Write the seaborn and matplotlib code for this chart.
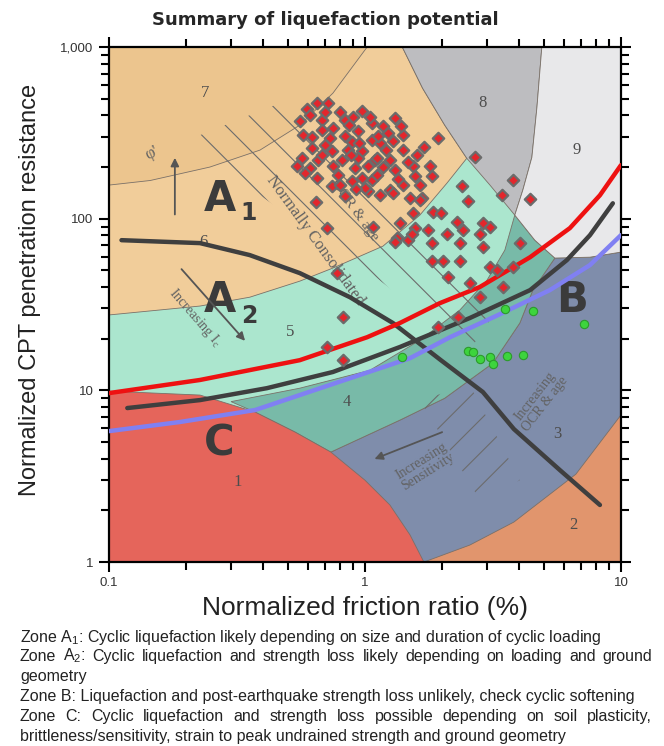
import matplotlib
matplotlib.use("Agg")
import matplotlib.pyplot as plt
import seaborn as sns
from matplotlib.ticker import NullFormatter, LogLocator

sns.set_style("white")
plt.rcParams["font.family"] = ["Liberation Sans", "DejaVu Sans"]
plt.rcParams["hatch.linewidth"] = 0.8

# ---- data (normalized friction ratio %, normalized CPT resistance) ----
red_pts = [
    (0.593, 435), (0.649, 471), (0.717, 471), (0.557, 370), (0.973, 423), (0.835, 375),
    (1.065, 360), (0.679, 375), (0.573, 307), (0.679, 328), (0.750, 337), (0.939, 324),
    (0.621, 258), (0.730, 295), (0.835, 303), (1.065, 287), (0.743, 248), (0.859, 251),
    (0.973, 248), (0.567, 225), (0.655, 219), (0.813, 219), (0.939, 225), (1.094, 219),
    (0.542, 202), (0.610, 197), (0.750, 202), (0.914, 197), (1.028, 202), (0.649, 172),
    (0.785, 180), (0.973, 172), (0.743, 155), (0.890, 166), (1.065, 168), (0.835, 135),
    (1.028, 145), (0.643, 125), (1.176, 346), (1.31, 385), (1.407, 307), (1.93, 295),
    (1.145, 276), (1.286, 283), (1.114, 225), (1.252, 219), (1.407, 251), (1.597, 235),
    (1.31, 192), (1.54, 202), (1.79, 202), (1.114, 180), (1.568, 177), (1.83, 177),
    (1.407, 157), (1.64, 157), (1.252, 147), (1.145, 137), (1.50, 132), (1.67, 132),
    (2.69, 229), (2.39, 155), (2.52, 127), (3.78, 168), (3.43, 137), (4.42, 130),
    (1.85, 109), (1.98, 108), (2.89, 94), (3.08, 89), (2.29, 96), (2.41, 86),
    (1.83, 72), (2.09, 82), (2.35, 72), (2.81, 82), (2.89, 68), (1.76, 86),
    (1.37, 94), (1.47, 75), (1.33, 77), (1.57, 88), (1.83, 57), (2.02, 57),
    (2.35, 57), (2.11, 46), (2.57, 42), (3.08, 52), (3.28, 50), (4.03, 72),
    (2.81, 35), (2.31, 26.7), (3.46, 40), (0.711, 88), (1.075, 89), (0.778, 48),
    (0.82, 26.7), (0.711, 17.9), (0.82, 15.0), (1.31, 73), (1.54, 108), (1.286, 141),
    (1.64, 128), (1.93, 23.3), (3.78, 52), (1.527, 82), (0.80, 417), (0.89, 279),
    (0.698, 268), (1.23, 315), (1.21, 251), (1.0, 151), (0.80, 157), (0.87, 351),
    (0.70, 418), (0.62, 299), (0.897, 391), (1.124, 303), (0.95, 276), (0.679, 235),
    (0.88, 235), (1.18, 200), (0.583, 184), (0.92, 150), (1.35, 170), (1.48, 215),
    (1.70, 260), (1.38, 345), (0.61, 400), (1.05, 390),
]
green_pts = [
    (3.52, 29.7), (4.53, 29.0), (7.17, 24.3), (1.40, 15.6), (2.52, 16.9), (2.64, 16.7),
    (2.81, 15.2), (3.08, 15.6), (3.16, 14.2), (3.59, 15.8), (4.14, 16.1),
]

# boundary curves
red_curve = [(0.1, 9.64), (0.227, 11.5), (0.557, 15.0), (1.02, 20.4), (1.371, 24.7), (1.96, 32.2),
             (2.81, 40.0), (4.42, 59.7), (6.32, 88.2), (8.28, 137), (10, 205)]
a_curve = [(0.112, 75.0), (0.227, 72.1), (0.355, 61.4), (0.557, 48.2), (0.874, 34.9), (1.286, 24.7),
           (1.98, 15.0), (2.89, 9.78), (3.82, 5.95), (5.78, 3.43), (8.28, 2.15)]
grey_curve = [(0.118, 7.89), (0.227, 8.78), (0.414, 10.3), (0.75, 12.8), (1.371, 17.9), (2.57, 26.4),
              (4.42, 38.4), (6.15, 57.4), (7.57, 80.2), (9.30, 123)]
blue_curve = [(0.1, 5.79), (0.189, 6.54), (0.372, 7.68), (0.806, 11.3), (1.50, 15.4), (2.15, 20.4),
              (3.37, 27.8), (5.28, 38.4), (7.57, 53.7), (10, 80.2)]

# soil behaviour type zones
zone1 = [(0.1, 1), (0.1, 9.9), (0.227, 9.39), (0.372, 7.48), (0.533, 5.72), (0.736, 4.37),
         (1.0, 3.0), (1.252, 2.15), (1.50, 1.44), (1.70, 1.0)]
zone2 = [(1.70, 1), (2.57, 1.256), (3.82, 1.71), (6.67, 3.25), (10, 7.18), (10, 1)]
zone3 = [(0.736, 4.37), (1.37, 6.71), (2.05, 9.0), (3.16, 14.4), (4.03, 24.7), (4.53, 38.4),
         (5.52, 59), (7.57, 59.7), (10, 63.9), (10, 1), (0.736, 1)]
zone4 = [(0.3, 8.6), (0.557, 10.3), (1.046, 13.1), (1.64, 19.6), (2.35, 29.4), (3.0, 43.9),
         (3.52, 65.6), (3.85, 105), (4.61, 75), (5.52, 59), (4.53, 38.4), (4.03, 24.7),
         (3.16, 14.4), (2.05, 9.0), (1.37, 6.71), (0.736, 4.37), (0.533, 5.72), (0.372, 7.48)]
zone5 = [(0.1, 1), (10, 1), (10, 1000), (0.1, 1000)]
zone6 = [(0.1, 27.5), (0.227, 31.0), (0.355, 34.9), (0.557, 43.3), (0.75, 51.6), (1.176, 69.2),
         (1.64, 105), (2.09, 161), (2.50, 225), (2.05, 351), (1.68, 576), (1.40, 1000), (0.1, 1000)]
zone7 = [(0.1, 157), (0.145, 167), (0.248, 200), (0.389, 251), (0.557, 351), (0.75, 539),
         (1.02, 1000), (0.1, 1000)]
zone8 = [(1.40, 1000), (1.68, 576), (2.05, 351), (2.50, 225), (3.08, 157), (3.85, 105),
         (4.14, 147), (4.49, 228), (4.70, 447), (4.91, 1000)]
zone9 = [(4.91, 1000), (4.70, 447), (4.49, 228), (4.14, 147), (3.85, 105), (4.61, 75),
         (5.52, 59), (7.57, 59.7), (10, 63.9), (10, 1000)]
nc_band = [(0.227, 307), (0.445, 459), (1.371, 105), (3.37, 31.4), (2.57, 17.2), (0.956, 53.7), (0.389, 137)]
oc_band = [(1.64, 8.78), (2.57, 10.7), (4.03, 3.0), (2.81, 2.30)]

zone_numbers = ["1", "2", "3", "4", "5", "6", "7", "8", "9"]
zone_number_pos = [(0.319, 2.92), (6.55, 1.64), (5.62, 5.57), (0.851, 8.55), (0.509, 21.9),
                   (0.233, 73.1), (0.237, 539), (2.89, 471), (6.73, 251)]

x_ticks = [0.1, 1, 10]
x_tick_labels = ["0.1", "1", "10"]
y_ticks = [1, 10, 100, 1000]
y_tick_labels = ["1", "10", "100", "1,000"]

notes = [
    r"Zone A$_\mathregular{1}$: Cyclic liquefaction likely depending on size and duration of cyclic loading",
    r"Zone A$_\mathregular{2}$: Cyclic liquefaction and strength loss likely depending on loading and ground",
    "geometry",
    "Zone B: Liquefaction and post-earthquake strength loss unlikely, check cyclic softening",
    "Zone C: Cyclic liquefaction and strength loss possible depending on soil plasticity,",
    "brittleness/sensitivity, strain to peak undrained strength and ground geometry",
]
notes_justified = [False, True, False, False, True, False]

# ---- figure ----
fig = plt.figure(figsize=(6.64, 7.46), dpi=100)
ax = fig.add_axes([0.164, 0.2466, 0.7711, 0.6903])
ax.set_xscale("log")
ax.set_yscale("log")

edge = "#7a7068"
def zone(pts, color, z=1):
    xs, ys = zip(*pts)
    ax.fill(xs, ys, facecolor=color, edgecolor=edge, lw=0.6, zorder=z)

zone(zone5, "#ABE6CE", 0.5)
zone(zone3, "#7F8DAB")
zone(zone4, "#78BAA8")
zone(zone6, "#F1CD9A")
zone(zone7, "#ECC58E")
zone(zone8, "#BDBDC0")
zone(zone9, "#E8E8EA")
zone(zone1, "#E5655B")
zone(zone2, "#E1956D")

for band, h in [(nc_band, "\\"), (oc_band, "/")]:
    xs, ys = zip(*band)
    ax.fill(xs, ys, facecolor="none", edgecolor="#6c6c6c", hatch=h, lw=0, zorder=2)

serif = ["Liberation Serif", "DejaVu Serif"]
for lab, (x, y) in zip(zone_numbers, zone_number_pos):
    ax.text(x, y, lab, fontsize=12, family=serif, color="#4d4d4d", ha="center", va="center", zorder=3)

big = dict(fontsize=30, fontweight="bold", color="#3b3b3b", family="DejaVu Sans", ha="center", va="center", zorder=3)
sub = dict(fontsize=17, fontweight="bold", color="#3b3b3b", family="DejaVu Sans", ha="center", va="center", zorder=3)
ax.text(0.271, 130, "A", **big)
ax.text(0.350, 108, "1", **sub)
ax.text(0.271, 33.6, "A", **big)
ax.text(0.352, 27.0, "2", **sub)
ax.text(6.44, 33.6, "B", **big)
ax.text(0.269, 4.93, "C", **big)

note = dict(family=serif, color="#626262", ha="center", va="center", zorder=3, rotation_mode="anchor")
ax.text(0.147, 241, "φ'", fontsize=12, rotation=25, **note)
ax.text(0.638, 75, "Normally Consolidated", fontsize=12, rotation=-54, **note)
ax.text(0.914, 112, "OCR & age", fontsize=11, rotation=-54, **note)
ax.text(0.217, 26.4, r"Increasing I$_\mathregular{c}$", fontsize=10, rotation=-49, **note)
ax.text(4.83, 8.78, "Increasing\nOCR & age", fontsize=10, rotation=52, linespacing=0.9, **note)
ax.text(1.71, 3.62, "Increasing\nSensitivity", fontsize=10, rotation=32, linespacing=0.9, **note)

arrow = dict(arrowstyle="-|>", color="#555555", lw=1.3, mutation_scale=12)
ax.annotate("", xy=(0.181, 235), xytext=(0.181, 102), arrowprops=arrow, zorder=3)
ax.annotate("", xy=(0.346, 18.9), xytext=(0.189, 52.3), arrowprops=arrow, zorder=3)
ax.annotate("", xy=(1.065, 3.93), xytext=(2.05, 5.79), arrowprops=arrow, zorder=3)

for pts, color in [(a_curve, "#3f3f3f"), (grey_curve, "#3f3f3f"), (blue_curve, "#8080F2"), (red_curve, "#EE1111")]:
    xs, ys = zip(*pts)
    sns.lineplot(x=list(xs), y=list(ys), sort=False, estimator=None, color=color, lw=3.2,
                 solid_capstyle="round", ax=ax, zorder=4)

rx, ry = zip(*red_pts)
sns.scatterplot(x=list(rx), y=list(ry), marker="D", s=34, color="#E3262C", edgecolor="#6b6b6b",
                linewidth=1.6, ax=ax, zorder=6)
gx, gy = zip(*green_pts)
sns.scatterplot(x=list(gx), y=list(gy), marker="o", s=36, color="#3DD43D", edgecolor="#2C9A2C",
                linewidth=0.8, ax=ax, zorder=6)

ax.set_xlim(0.1, 10)
ax.set_ylim(1, 1000)
ax.set_xticks(x_ticks, labels=x_tick_labels)
ax.set_yticks(y_ticks, labels=y_tick_labels)
ax.xaxis.set_minor_locator(LogLocator(subs=range(2, 10)))
ax.yaxis.set_minor_locator(LogLocator(subs=range(2, 10)))
ax.xaxis.set_minor_formatter(NullFormatter())
ax.yaxis.set_minor_formatter(NullFormatter())
ax.tick_params(which="both", direction="out", bottom=True, left=True, top=True, right=True,
               width=1.5, color="black", labelsize=9.5, labelcolor="#333333")
ax.tick_params(which="major", length=7.5)
ax.tick_params(which="minor", length=5.5)
for s in ax.spines.values():
    s.set_linewidth(1.6)
    s.set_color("black")
ax.set_xlabel("")
ax.set_ylabel("")

fig.text(0.49, 0.973, "Summary of liquefaction potential", fontsize=13, fontweight="bold",
         family="DejaVu Sans", ha="center", va="center")
fig.text(0.045, 0.611, "Normalized CPT penetration resistance", fontsize=17, rotation=90,
         ha="center", va="center", color="#222222")
fig.text(0.55, 0.185, "Normalized friction ratio (%)", fontsize=19, ha="center", va="center",
         color="#222222")

# notes below the chart, two lines justified to the right margin
note_y = [0.1461, 0.1206, 0.0938, 0.0670, 0.0402, 0.0121]
renderer = fig.canvas.get_renderer()
W = fig.bbox.width
left_px, right_px = 0.030 * W, 0.982 * W
for line, y, just in zip(notes, note_y, notes_justified):
    if not just:
        fig.text(0.030, y, line, fontsize=11.5, ha="left", va="center", color="#222222")
        continue
    words = line.split(" ")
    objs = [fig.text(0, y, w, fontsize=11.5, ha="left", va="center", color="#222222") for w in words]
    widths = [o.get_window_extent(renderer).width for o in objs]
    gap = (right_px - left_px - sum(widths)) / (len(words) - 1)
    x = left_px
    for o, w in zip(objs, widths):
        o.set_x(x / W)
        x += w + gap

fig.savefig("out.png", dpi=100)
